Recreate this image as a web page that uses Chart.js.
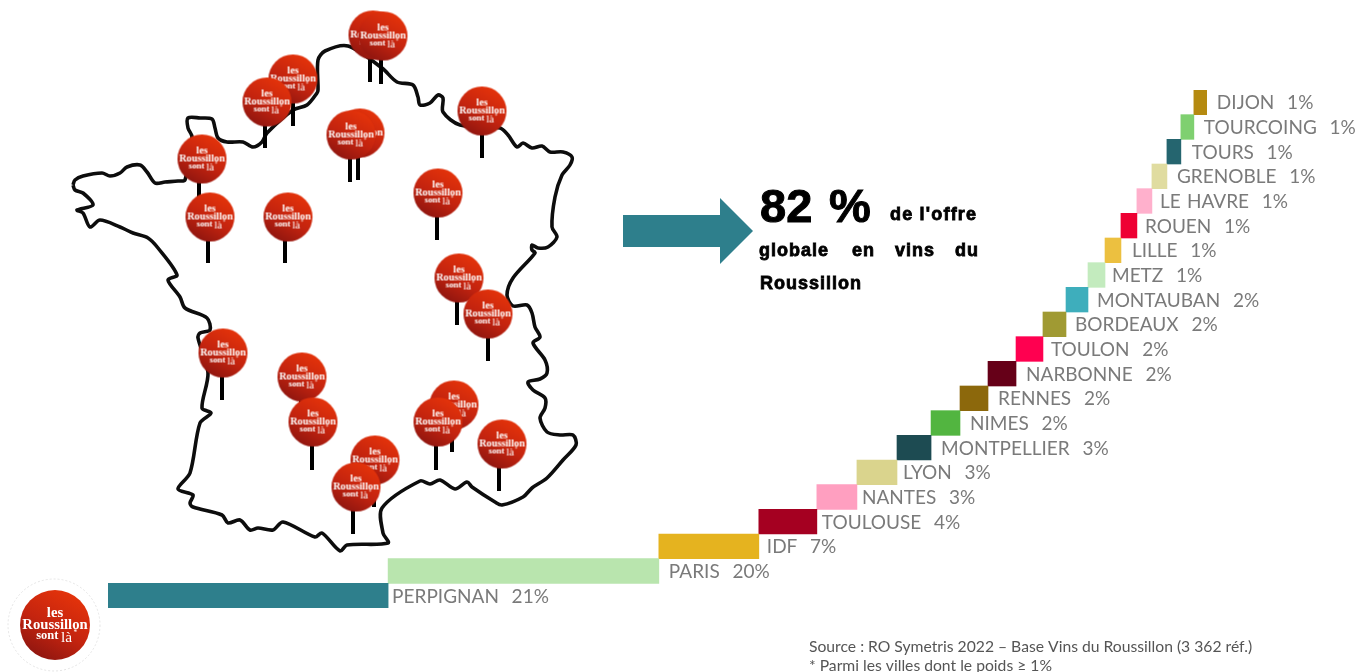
<!DOCTYPE html>
<html lang="fr">
<head>
<meta charset="utf-8">
<title>Les Roussillon sont là</title>
<style>
html,body{margin:0;padding:0;background:#fff;width:1359px;height:672px;overflow:hidden}
canvas{position:absolute;left:0;top:0;filter:blur(0.45px)}
</style>
<script src="https://cdn.jsdelivr.net/npm/chart.js@4"></script>
</head>
<body>
<canvas id="map" width="1359" height="672"></canvas>
<canvas id="bars" width="1359" height="672"></canvas>
<script>
// ---------- DATA ----------
const cities = ["DIJON","TOURCOING","TOURS","GRENOBLE","LE HAVRE","ROUEN","LILLE","METZ","MONTAUBAN","BORDEAUX","TOULON","NARBONNE","RENNES","NIMES","MONTPELLIER","LYON","NANTES","TOULOUSE","IDF","PARIS","PERPIGNAN"];
const shares = [0.97,0.97,1.04,1.12,1.12,1.19,1.19,1.27,1.64,1.72,2.01,2.09,2.09,2.16,2.54,2.99,2.99,4.33,7.46,20.2,20.9];
const barColors = ["#b58a10","#7fd070","#25656f","#e0dca0","#ffb0cc","#ee0033","#ecc040","#c3ebbe","#3eaebc","#a09a33","#ff0050","#660018","#8c680c","#52b540","#1d4b52","#dad48d","#ff9fc0","#a50021","#e5b31f","#b9e5ae","#2e7f8c"];
const labelGaps = [10,10,11,10,8,8,11,7,9,9,8,10,10,10,10,6,5,5,8,10,4];

const outlineX = [73,75,83,102,110,120,127,140,147,155,165,178,185,192,188,188,200,212,215,218,227,243,253,262,267,293,307,317,318,318,325,348,382,397,413,418,420,430,438,443,443,460,500,508,517,523,532,542,550,563,572,570,562,555,552,557,548,538,532,532,535,513,507,513,527,532,535,540,533,545,547,540,528,533,545,545,540,547,560,573,576,563,547,532,523,502,495,472,467,455,440,430,420,382,383,388,347,340,322,315,283,273,258,250,240,228,222,193,190,193,178,190,200,211,202,208,198,200,210,207,185,180,168,177,158,148,133,120,100,90,83,77,93,83,75,73];
const outlineY = [185,180,176,173,176,173,167,165,172,183,182,181,180,137,128,118,118,119,128,138,142,142,147,142,133,110,105,93,90,60,51,46,68,82,85,97,105,103,95,98,112,125,128,135,147,143,148,146,152,152,157,165,175,197,227,237,247,248,245,250,253,278,295,306,305,313,327,337,343,360,373,379,382,390,398,408,418,432,435,435,445,460,478,488,497,505,502,487,482,489,480,484,481,508,533,543,545,551,533,537,522,530,528,530,520,523,515,507,503,495,489,473,423,413,408,373,338,333,330,318,308,297,280,275,248,238,233,227,220,227,213,210,205,193,190,185];

const pinX = [293,267,202,210,288,373,383,360,351,482,438,459,488,223,302,313,375,356,454,438,502];
const pinY = [79,102,159,217,217,35,36,133,135,111,193,278,314,353,377,422,460,487,405,422,444];
const stemX = [293,265,199,208,285,370,381,358,350,482,437,457,488,222,301,312,374,353,452,436,499];
const stemEndY = [126,148,206,263,263,82,84,180,182,158,240,325,361,400,424,470,507,534,452,470,491];

const arrowX = [623,720,720,753,720,720,623];
const arrowY = [215,215,198,231,264,247,247];

const sourceLines = ["Source : RO Symetris 2022 – Base Vins du Roussillon (3 362 réf.)","* Parmi les villes dont le poids ≥ 1%"];

// ---------- DERIVED ----------
const floating = [];
(function(){ let acc = 0; for (let i = shares.length-1; i>=0; i--) { floating[i] = [acc, acc+shares[i]]; acc += shares[i]; } })();

function logo(r){
  const c = document.createElement('canvas'); c.width = c.height = Math.ceil(2*r+2);
  const g = c.getContext('2d'); const m = c.width/2;
  const grad = g.createLinearGradient(m+r*0.6, m-r, m-r*0.5, m+r);
  grad.addColorStop(0,'#e8350a'); grad.addColorStop(0.55,'#c4240f'); grad.addColorStop(1,'#8c1510');
  g.fillStyle = grad; g.beginPath(); g.arc(m,m,r,0,Math.PI*2); g.fill();
  g.fillStyle = '#fff'; g.textAlign='center'; g.textBaseline='middle';
  const s = r*0.42;
  g.font = 'bold '+s+'px "Liberation Serif"';
  g.fillText('les', m, m-r*0.33);
  g.fillText('Roussillon', m, m);
  g.font = 'bold '+(s*0.85)+'px "Liberation Serif"';
  g.fillText('sont', m-r*0.22, m+r*0.31);
  g.font = s*1.05+'px "Liberation Serif"';
  g.fillText('là', m+r*0.33, m+r*0.36);
  g.font = s*0.5+'px "Liberation Serif"';
  g.fillText('*', m+r*0.58, m+r*0.22);
  return c;
}
const pinLogo = logo(24.5), bigLogo = logo(35);

// ---------- MAP LAYER ----------
const mapDecor = {
  id:'mapDecor',
  beforeDatasetsDraw(chart){
    const {ctx,scales:{x,y}} = chart;
    ctx.save();
    ctx.fillStyle = '#2e7f8c';
    ctx.beginPath();
    arrowX.forEach((v,i)=>{ const px=x.getPixelForValue(v), py=y.getPixelForValue(arrowY[i]); i?ctx.lineTo(px,py):ctx.moveTo(px,py); });
    ctx.closePath(); ctx.fill();
    // logo ring
    ctx.strokeStyle = '#e4e4e4'; ctx.lineWidth = 1; ctx.setLineDash([2,2]);
    ctx.beginPath(); ctx.arc(x.getPixelForValue(54),y.getPixelForValue(625),46,0,Math.PI*2); ctx.stroke();
    ctx.setLineDash([]);
    // callout text
    ctx.fillStyle = '#000'; ctx.strokeStyle = '#000'; ctx.textBaseline = 'alphabetic'; ctx.textAlign='left';
    const heavy = (t,px,py,font,sp,w)=>{ ctx.font=font; ctx.letterSpacing=sp+'px'; ctx.lineWidth=w; ctx.strokeText(t,px,py); ctx.fillText(t,px,py); };
    heavy('82',760,222,'bold 47px "Liberation Sans"',0,1);
    heavy('%',829,222,'bold 47px "Liberation Sans"',0,1);
    const small='bold 18px "Liberation Sans"';
    heavy("de l'offre",890,220,small,1.2,0.8);
    heavy('globale',759,256,small,1,0.8);
    heavy('en',852,256,small,1,0.8);
    heavy('vins',895,256,small,1,0.8);
    heavy('du',955,256,small,1,0.8);
    heavy('Roussillon',760,289,small,1,0.8);
    ctx.letterSpacing='0px';
    // source
    ctx.fillStyle='#555'; ctx.font='15.7px Lato';
    ctx.fillText(sourceLines[0],809,652);
    ctx.fillText(sourceLines[1],809,671);
    ctx.restore();
  }
};
const stemPoints = [];
stemX.forEach((sx,i)=>{ stemPoints.push({x:sx,y:pinY[i]},{x:sx,y:stemEndY[i]},{x:null,y:null}); });
new Chart(document.getElementById('map'),{
  type:'scatter',
  data:{datasets:[
    {label:'pins',order:0,data:pinX.map((v,i)=>({x:v,y:pinY[i]})),pointStyle:pinLogo,pointRadius:24,showLine:false},
    {label:'logo',order:0,data:[{x:55,y:625}],pointStyle:bigLogo,pointRadius:35,showLine:false},
    {label:'stems',order:1,data:stemPoints,showLine:true,spanGaps:false,borderColor:'#000',borderWidth:4,pointRadius:0,borderCapStyle:'butt'},
    {label:'France',order:2,data:outlineX.map((v,i)=>({x:v,y:outlineY[i]})),showLine:true,borderColor:'#0d0d0d',borderWidth:3.6,pointRadius:0,tension:0.3,fill:false}
  ]},
  options:{
    responsive:false,animation:false,events:[],
    layout:{padding:0,autoPadding:false},
    plugins:{legend:{display:false},tooltip:{enabled:false}},
    scales:{
      x:{type:'linear',min:0,max:1359,display:false},
      y:{type:'linear',min:0,max:672,reverse:true,display:false}
    }
  },
  plugins:[mapDecor]
});

// ---------- BAR LAYER ----------
const barLabels = {
  id:'barLabels',
  afterDatasetsDraw(chart){
    const {ctx,scales:{x,y}} = chart;
    ctx.save();
    ctx.font='19px Lato'; ctx.wordSpacing='1.5px'; ctx.fillStyle='#7a7a7a'; ctx.textBaseline='middle'; ctx.textAlign='left';
    cities.forEach((c,i)=>{
      ctx.fillText(c+'  '+Math.round(shares[i])+'%', x.getPixelForValue(floating[i][1])+labelGaps[i], y.getPixelForValue(c)+1);
    });
    ctx.restore();
  }
};
new Chart(document.getElementById('bars'),{
  type:'bar',
  data:{labels:cities,datasets:[{data:floating,backgroundColor:barColors,borderWidth:0,barPercentage:1,categoryPercentage:1}]},
  options:{
    indexAxis:'y',responsive:false,animation:false,events:[],
    layout:{padding:{left:108,right:152,top:90,bottom:64}},
    plugins:{legend:{display:false},tooltip:{enabled:false}},
    scales:{
      x:{type:'linear',min:0,max:82,display:false},
      y:{type:'category',display:false}
    }
  },
  plugins:[barLabels]
});
</script>
</body>
</html>
